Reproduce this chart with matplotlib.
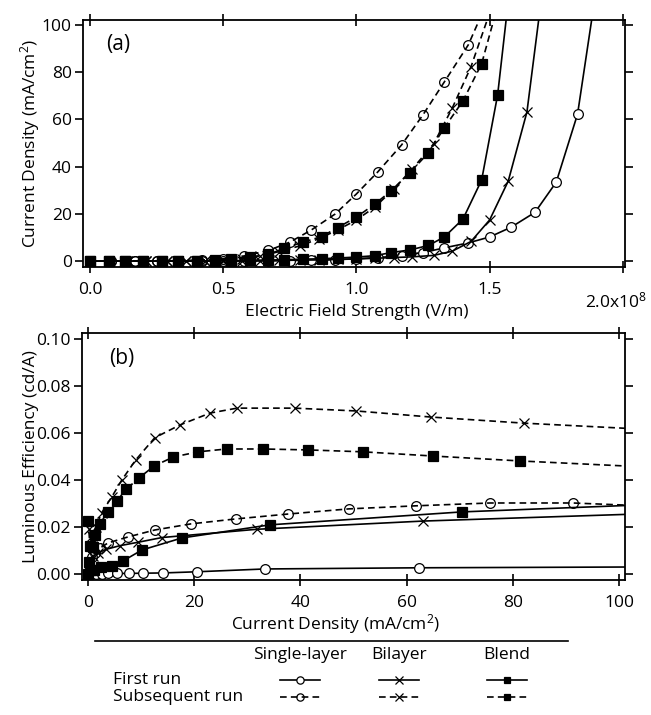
import numpy as np
import matplotlib
matplotlib.use('Agg')
import matplotlib.pyplot as plt
from matplotlib.lines import Line2D

plt.rcParams['font.family'] = ['Open Sans', 'DejaVu Sans']
plt.rcParams['mathtext.fontset'] = 'custom'
plt.rcParams['mathtext.rm'] = 'Open Sans'
plt.rcParams['mathtext.default'] = 'regular'

# ---- panel (a): current density vs field (field in units of 1e8 V/m)
E_single = [0.00, 0.08, 0.17, 0.25, 0.33, 0.42, 0.50, 0.58, 0.67, 0.75, 0.83, 0.92,
            1.00, 1.08, 1.17, 1.25, 1.33, 1.42, 1.50, 1.58, 1.67, 1.75, 1.83, 1.92]
J_single_first = [0, 0, 0, 0, 0, 0, 0, 0.05, 0.1, 0.2, 0.4, 0.6,
                  1.0, 1.5, 2.3, 3.6, 5.6, 7.7, 10.2, 14.3, 20.6, 33.4, 62.2, 130]
J_single_sub = [0, 0, 0, 0, 0.2, 0.4, 1.0, 2.2, 4.5, 8.0, 13.1, 19.9,
                28.4, 37.7, 49.2, 61.9, 75.8, 91.5, 112]

E_bilayer = [0.00, 0.07, 0.14, 0.21, 0.29, 0.36, 0.43, 0.50, 0.57, 0.64, 0.71, 0.79,
             0.86, 0.93, 1.00, 1.07, 1.14, 1.21, 1.29, 1.36, 1.43, 1.50, 1.57, 1.64, 1.71]
J_bilayer_first = [0, 0, 0, 0, 0, 0, 0, 0.1, 0.1, 0.2, 0.3, 0.4,
                   0.5, 0.7, 0.9, 1.2, 1.5, 1.8, 2.4, 4.2, 8.3, 17.4, 33.9, 63.1, 125]
J_bilayer_sub = [0, 0, 0, 0, 0, 0.1, 0.2, 0.5, 1.0, 2.2, 4.0, 6.5,
                 9.5, 13.2, 17.4, 22.9, 30.5, 39.0, 49.6, 64.8, 82.2, 105]

E_blend = [0.00, 0.07, 0.13, 0.20, 0.27, 0.33, 0.40, 0.47, 0.53, 0.60, 0.67, 0.73,
           0.80, 0.87, 0.93, 1.00, 1.07, 1.13, 1.20, 1.27, 1.33, 1.40, 1.47, 1.53, 1.60]
J_blend_first = [0, 0, 0, 0, 0, 0, 0.1, 0.1, 0.2, 0.3, 0.4, 0.6,
                 0.8, 1.0, 1.3, 1.7, 2.3, 3.6, 4.7, 6.6, 10.2, 17.8, 34.3, 70.3, 140]
J_blend_sub = [0, 0, 0, 0, 0, 0.1, 0.2, 0.5, 1.0, 1.7, 2.8, 5.5,
               8.0, 10.4, 14.2, 18.6, 24.2, 29.7, 37.3, 45.8, 56.4, 67.8, 83.5, 108]

# ---- panel (b): luminous efficiency vs current density
Jb_single_first = [0.1, 0.5, 1.5, 2.6, 3.8, 5.4, 7.7, 10.4, 14.1, 20.5, 33.3, 62.3, 110]
LE_single_first = [0.0, 0.0001, 0.0001, 0.0001, 0.0002, 0.0002, 0.0002, 0.0003, 0.0004,
                   0.0009, 0.0021, 0.0026, 0.0030]
Jb_single_sub = [0.3, 0.8, 1.3, 2.3, 3.8, 7.5, 12.6, 19.4, 27.8, 37.7, 49.2, 61.8, 75.7, 91.3, 110]
LE_single_sub = [0.004, 0.007, 0.009, 0.011, 0.0132, 0.0157, 0.0187, 0.0213, 0.0234,
                 0.0255, 0.0277, 0.0290, 0.0302, 0.0302, 0.0285]

Jb_bilayer_first = [0.3, 1.0, 2.0, 3.5, 6.0, 9.5, 14.0, 31.8, 63.1, 110]
LE_bilayer_first = [0.004, 0.0075, 0.009, 0.0105, 0.012, 0.0135, 0.0155, 0.019, 0.0225, 0.026]
Jb_bilayer_sub = [0.3, 0.8, 1.5, 2.6, 4.5, 6.4, 9.0, 12.6, 17.3, 23.0, 28.1, 38.9,
                  50.5, 64.6, 82.1, 110]
LE_bilayer_sub = [0.019, 0.016, 0.020, 0.026, 0.0328, 0.040, 0.0485, 0.058, 0.0634,
                  0.0685, 0.0706, 0.0706, 0.0694, 0.0668, 0.0642, 0.061]

Jb_blend_first = [0.05, 0.15, 0.5, 1.2, 2.5, 4.5, 6.6, 10.2, 17.7, 34.3, 70.4, 110]
LE_blend_first = [0.0, 0.005, 0.0015, 0.0015, 0.0028, 0.0034, 0.0055, 0.0102, 0.0153,
                  0.0209, 0.0264, 0.0299]
Jb_blend_sub = [0.05, 0.4, 0.9, 1.4, 2.3, 3.7, 5.4, 7.2, 9.7, 12.5, 16.1, 20.8, 26.1,
                33.0, 41.5, 51.7, 65.0, 81.4, 110]
LE_blend_sub = [0.0226, 0.012, 0.0115, 0.0166, 0.0213, 0.0264, 0.031, 0.036, 0.041,
                0.046, 0.0498, 0.052, 0.0532, 0.0532, 0.0528, 0.052, 0.0502, 0.0481, 0.045]

W, H = 651, 715
fig = plt.figure(figsize=(W / 100, H / 100), dpi=100)
FS = 12.5


def box(l, t, r, b):
    return [l / W, 1 - b / H, (r - l) / W, (b - t) / H]


dash = (4, 2.5)
first = dict(color='k', lw=1.2, ls='-', mew=0.9)
sub = dict(color='k', lw=1.2, ls=(0, dash), mew=0.9)
circ = dict(marker='o', ms=7, mfc='white', mec='k')
circ_s = dict(marker='o', ms=7, mfc='none', mec='k')
cross = dict(marker='x', ms=7, mec='k')
sq = dict(marker='s', ms=6.5, mfc='k', mec='k')


def style_axes(ax):
    for s in ax.spines.values():
        s.set_linewidth(1.3)
    ax.tick_params(which='both', top=True, right=True, width=1.2, labelsize=FS)
    ax.tick_params(axis='y', left=True, direction='out', length=6, pad=2)
    ax.tick_params(axis='y', which='both', right=True, labelright=False)
    ax.tick_params(axis='x', direction='inout', length=9)


# panel a
ax1 = fig.add_axes(box(83, 20, 625, 267))
ax1.plot(E_single, J_single_first, **first, **circ)
ax1.plot(E_bilayer, J_bilayer_first, **first, **cross)
ax1.plot(E_blend, J_blend_first, **first, **sq)
ax1.plot(E_single[:len(J_single_sub)], J_single_sub, **sub, **circ_s)
ax1.plot(E_bilayer[:len(J_bilayer_sub)], J_bilayer_sub, **sub, **cross)
ax1.plot(E_blend[:len(J_blend_sub)], J_blend_sub, **sub, **sq)
ax1.set_xlim(-0.026, 2.008)
ax1.set_ylim(-2.5, 102)
ax1.set_xticks([0, 0.5, 1.0, 1.5, 2.0])
ax1.set_xticklabels(['0.0', '0.5', '1.0', '1.5', ''])
ax1.set_yticks([0, 20, 40, 60, 80, 100])
style_axes(ax1)
ax1.tick_params(axis='x', pad=6)
ax1.set_ylabel('Current Density (mA/cm$^{2}$)', fontsize=FS)
ax1.yaxis.set_label_coords(-0.075, 0.5)
ax1.set_xlabel('Electric Field Strength (V/m)', fontsize=FS)
ax1.xaxis.set_label_coords(0.505, -0.148)
ax1.text(1.975, -13, '2.0x10$^{8}$', fontsize=FS, ha='center', va='top', clip_on=False)
ax1.text(0.06, 96, '(a)', fontsize=15, va='top')

# panel b
ax2 = fig.add_axes(box(82, 333, 625, 580))
ax2.plot(Jb_single_first, LE_single_first, **first, **circ)
ax2.plot(Jb_bilayer_first, LE_bilayer_first, **first, **cross)
ax2.plot(Jb_blend_first, LE_blend_first, **first, **sq)
ax2.plot(Jb_single_sub, LE_single_sub, **sub, **circ_s)
ax2.plot(Jb_bilayer_sub, LE_bilayer_sub, **sub, **cross)
ax2.plot(Jb_blend_sub, LE_blend_sub, **sub, **sq)
ax2.set_xlim(-1.1, 101.1)
ax2.set_ylim(-0.0026, 0.1026)
ax2.set_xticks([0, 20, 40, 60, 80, 100])
ax2.set_yticks([0, 0.02, 0.04, 0.06, 0.08, 0.10])
ax2.set_yticklabels(['0.00', '0.02', '0.04', '0.06', '0.08', '0.10'])
style_axes(ax2)
ax2.tick_params(axis='x', pad=6)
ax2.set_ylabel('Luminous Efficiency (cd/A)', fontsize=FS)
ax2.yaxis.set_label_coords(-0.08, 0.5)
ax2.set_xlabel('Current Density (mA/cm$^{2}$)', fontsize=FS)
ax2.xaxis.set_label_coords(0.466, -0.13)
ax2.text(4.0, 0.096, '(b)', fontsize=15, va='top')

# legend table
def fx(px):
    return px / W


def fy(py):
    return 1 - py / H


fig.add_artist(Line2D([fx(95), fx(568)], [fy(641), fy(641)], color='k', lw=1.2))
headers = ['Single-layer', 'Bilayer', 'Blend']
col_x = [300, 399, 507]
row_names = ['First run', 'Subsequent run']
row_y = [680, 697]
row_marks = [circ, cross, sq]
row_marks_s = [circ_s, cross, sq]
for h, cx in zip(headers, col_x):
    fig.text(fx(cx), fy(655), h, fontsize=FS, ha='center', va='center')
for name, ry in zip(row_names, row_y):
    fig.text(fx(113), fy(ry), name, fontsize=FS, ha='left', va='center')
for cx, m1, m2 in zip(col_x, row_marks, row_marks_s):
    for ry, ls, m in [(row_y[0], first, m1), (row_y[1], sub, m2)]:
        mk = dict(m)
        mk['ms'] = mk['ms'] * 0.75
        fig.add_artist(Line2D([fx(cx - 20), fx(cx), fx(cx + 20)], [fy(ry)] * 3,
                              markevery=[1], **ls, **mk))

plt.savefig('out.png', dpi=100)
